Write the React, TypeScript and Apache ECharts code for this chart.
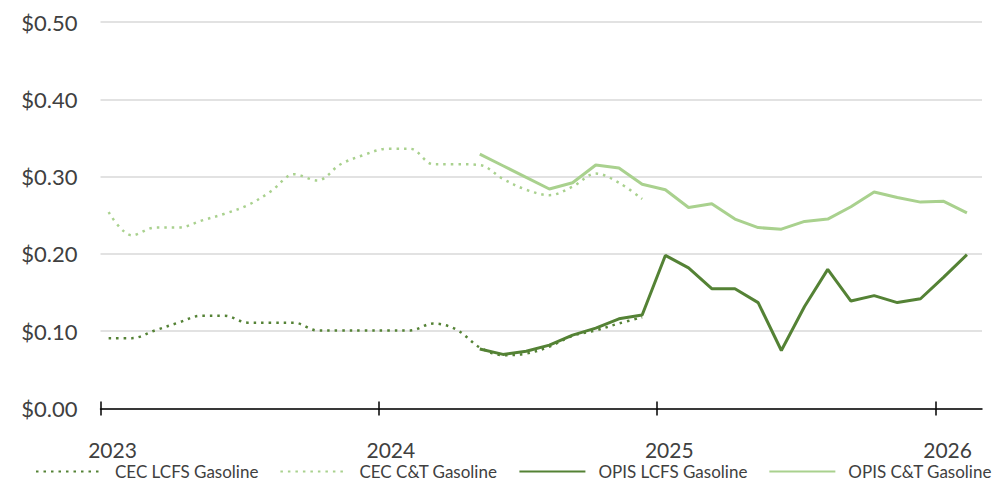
import React, { useEffect, useRef } from "react";
import * as echarts from "echarts";

// Months from Jan 2023 to Feb 2026
const months: string[] = [
  "2023-01", "2023-02", "2023-03", "2023-04", "2023-05", "2023-06",
  "2023-07", "2023-08", "2023-09", "2023-10", "2023-11", "2023-12",
  "2024-01", "2024-02", "2024-03", "2024-04", "2024-05", "2024-06",
  "2024-07", "2024-08", "2024-09", "2024-10", "2024-11", "2024-12",
  "2025-01", "2025-02", "2025-03", "2025-04", "2025-05", "2025-06",
  "2025-07", "2025-08", "2025-09", "2025-10", "2025-11", "2025-12",
  "2026-01", "2026-02",
];

const cecLcfs: (number | null)[] = [
  0.091, 0.091, 0.101, 0.111, 0.120, 0.120, 0.111, 0.111, 0.111, 0.101, 0.101, 0.101,
  0.101, 0.101, 0.110, 0.102, 0.079, 0.069, 0.071, 0.080, 0.094, 0.101, 0.110, 0.118,
  null, null, null, null, null, null, null, null, null, null, null, null,
  null, null,
];

const cecCt: (number | null)[] = [
  0.254, 0.224, 0.234, 0.234, 0.243, 0.252, 0.263, 0.281, 0.303, 0.295, 0.316, 0.328,
  0.336, 0.336, 0.316, 0.316, 0.315, 0.297, 0.283, 0.276, 0.287, 0.304, 0.292, 0.271,
  null, null, null, null, null, null, null, null, null, null, null, null,
  null, null,
];

const opisLcfs: (number | null)[] = [
  null, null, null, null, null, null, null, null, null, null, null, null,
  null, null, null, null, 0.077, 0.070, 0.074, 0.082, 0.095, 0.104, 0.116, 0.121,
  0.198, 0.182, 0.155, 0.155, 0.137, 0.075, 0.132, 0.180, 0.139, 0.146, 0.137, 0.142,
  0.170, 0.199,
];

const opisCt: (number | null)[] = [
  null, null, null, null, null, null, null, null, null, null, null, null,
  null, null, null, null, 0.329, 0.314, 0.299, 0.284, 0.292, 0.315, 0.311, 0.290,
  0.283, 0.260, 0.265, 0.245, 0.234, 0.232, 0.242, 0.245, 0.261, 0.280, 0.273, 0.267,
  0.268, 0.253,
];

const yearLabels: string[] = ["2023", "2024", "2025", "2026"];
const seriesNames: string[] = [
  "CEC LCFS Gasoline",
  "CEC C&T Gasoline",
  "OPIS LCFS Gasoline",
  "OPIS C&T Gasoline",
];

const DARK = "#548235";
const LIGHT = "#A9D18E";
const TEXT = "#404040";
const FONT = "Lato";
const BASE_YEAR = 2023;
const DAY_OFFSET = 0.35;

function monthPos(m: string): number {
  const [y, mo] = m.split("-").map(Number);
  return (y - BASE_YEAR) * 12 + (mo - 1) + DAY_OFFSET;
}

function toData(vals: (number | null)[]) {
  const out: [number, number][] = [];
  vals.forEach((v, i) => {
    if (v !== null) out.push([monthPos(months[i]), v]);
  });
  return out;
}

const tickValues = yearLabels.map((_, i) => i * 12);

export default function App() {
  const ref = useRef<HTMLDivElement>(null);
  useEffect(() => {
    if (!ref.current) return;
    const chart = echarts.init(ref.current, undefined, { renderer: "svg" });
    const dotted = [2.5, 5];
    chart.setOption({
      animation: false,
      textStyle: { fontFamily: FONT },
      grid: { left: 100.5, right: 23, top: 22, bottom: 88.5, containLabel: false },
      legend: {
        bottom: 17,
        left: 35,
        width: 968,
        padding: 0,
        itemWidth: 66,
        itemHeight: 12,
        itemGap: 21,
        data: seriesNames,
        itemStyle: { opacity: 0 },
        textStyle: {
          color: TEXT,
          fontSize: 17,
          lineHeight: 14,
          fontFamily: FONT,
          padding: [0, 0, 0, 8],
        },
      },
      xAxis: [
        {
          type: "value",
          min: 0,
          max: 38,
          interval: 12,
          position: "bottom",
          axisLine: { show: true, lineStyle: { color: "#000", width: 1.5 } },
          axisTick: {
            show: true,
            length: 7,
            customValues: tickValues,
            lineStyle: { color: "#000", width: 1.5 },
          },
          axisLabel: {
            customValues: tickValues,
            color: TEXT,
            fontSize: 21,
            lineHeight: 16,
            fontFamily: FONT,
            margin: 33,
            padding: [0, 0, 0, 24],
            formatter: (v: number) => {
              const i = Math.round(v / 12);
              return v % 12 === 0 && yearLabels[i] ? yearLabels[i] : "";
            },
          },
          splitLine: { show: false },
        },
        {
          type: "value",
          min: 0,
          max: 38,
          interval: 12,
          position: "bottom",
          axisLine: { show: false },
          axisTick: {
            show: true,
            inside: true,
            length: 7,
            customValues: tickValues,
            lineStyle: { color: "#000", width: 1.5 },
          },
          axisLabel: { show: false },
          splitLine: { show: false },
        },
      ],
      yAxis: {
        type: "value",
        min: 0,
        max: 0.5,
        interval: 0.1,
        axisLine: { show: false },
        axisTick: { show: false },
        axisLabel: {
          color: TEXT,
          fontSize: 22,
          fontFamily: FONT,
          margin: 23,
          formatter: (v: number) => "$" + v.toFixed(2),
        },
        splitLine: { lineStyle: { color: "#D9D9D9", width: 1.5 } },
      },
      series: [
        {
          name: seriesNames[0],
          type: "line",
          data: toData(cecLcfs),
          smooth: 0.35,
          showSymbol: false,
          symbol: "none",
          lineStyle: { color: DARK, width: 2.5, type: dotted },
          itemStyle: { color: DARK },
          z: 3,
        },
        {
          name: seriesNames[1],
          type: "line",
          data: toData(cecCt),
          smooth: 0.35,
          showSymbol: false,
          symbol: "none",
          lineStyle: { color: LIGHT, width: 2.5, type: dotted },
          itemStyle: { color: LIGHT },
          z: 3,
        },
        {
          name: seriesNames[2],
          type: "line",
          data: toData(opisLcfs),
          showSymbol: false,
          symbol: "none",
          lineStyle: { color: DARK, width: 3 },
          itemStyle: { color: DARK },
          z: 2,
        },
        {
          name: seriesNames[3],
          type: "line",
          data: toData(opisCt),
          showSymbol: false,
          symbol: "none",
          lineStyle: { color: LIGHT, width: 3 },
          itemStyle: { color: LIGHT },
          z: 2,
        },
      ],
    });
    return () => chart.dispose();
  }, []);
  return (
    <div
      ref={ref}
      style={{ position: "fixed", left: 0, top: 0, width: 1005, height: 497, background: "#fff" }}
    />
  );
}
